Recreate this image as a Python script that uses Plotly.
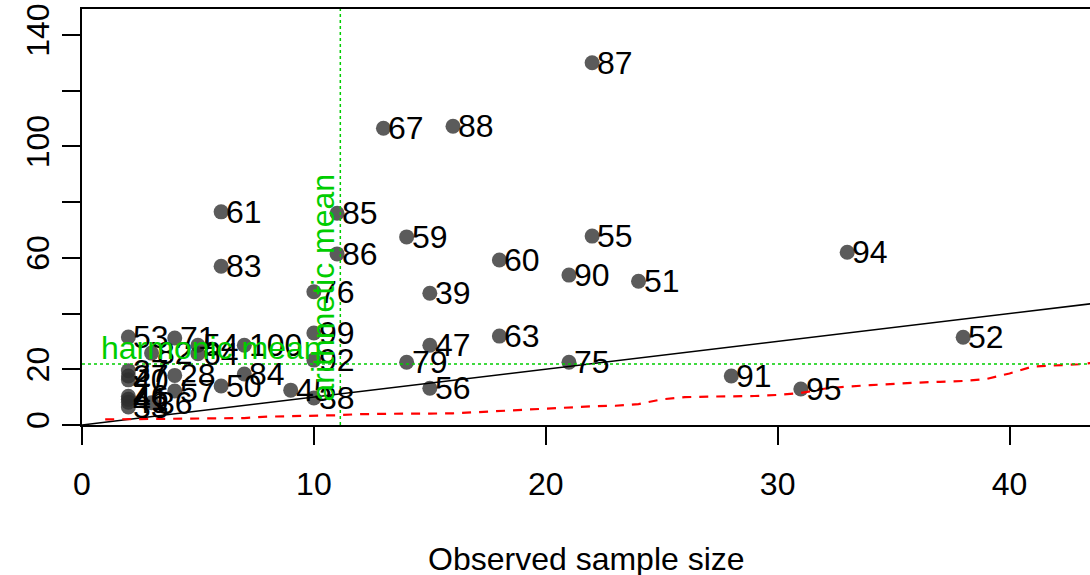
import plotly.graph_objects as go

# Observed samples: x = observed sample size, y = value, lab = sample id
pt_x = [22, 13, 16, 6, 11, 14, 22, 33, 6, 11, 18, 21, 24, 10, 15, 18, 38, 15,
        10, 10, 10, 14, 21, 15, 28, 31, 9, 6, 7,
        2, 4, 5, 7, 3, 5,
        2, 2, 2, 2, 2, 2, 2, 3, 4, 4]
pt_y = [130, 106.5, 107.2, 76.5, 76.0, 67.5, 67.8, 62.0, 57.0, 61.4, 59.2, 53.8, 51.6, 47.8, 47.3, 31.9, 31.5, 28.6,
        33.0, 23.3, 9.7, 22.5, 22.5, 13.2, 17.6, 12.9, 12.5, 14.0, 18.3,
        31.6, 31.2, 28.6, 28.6, 25.8, 25.6,
        19.5, 17.6, 16.2, 10.3, 9.2, 8.2, 6.5, 8.0, 17.8, 12.2]
pt_lab = ["87", "67", "88", "61", "85", "59", "55", "94", "83", "86", "60", "90", "51", "76", "39", "63", "52", "47",
          "99", "92", "38", "79", "75", "56", "91", "95", "45", "50", "84",
          "53", "71", "54", "100", "82", "64",
          "37", "27", "40", "46", "41", "49", "33", "36", "28", "57"]

# Red dashed reference curve
ref_x = list(range(1, 45))
ref_y = [2.0, 2.1, 2.3, 2.3, 2.3, 2.4, 2.5, 3.0, 3.1, 3.2, 3.5, 3.9, 4.1, 4.1, 4.1, 4.2, 4.6, 5.0, 5.4, 5.9,
         6.4, 6.7, 6.9, 7.5, 9.2, 10.0, 10.2, 10.3, 10.4, 10.8, 11.5, 13.0, 13.8, 14.3, 14.8, 15.2, 15.5, 15.8,
         16.5, 18.5, 21.0, 21.4, 21.8, 22.6]

# Identity line
id_x = [0, 45]
id_y = [0, 45]

arith_mean = 11.14
harm_mean = 21.9

x_ticks = [0, 10, 20, 30, 40]
y_ticks = [0, 20, 40, 60, 80, 100, 120, 140]
y_ticktext = ["0", "20", "", "60", "", "100", "", "140"]

FONT = "Liberation Sans, Arial, sans-serif"
GREEN = "#00CD00"
FS = 32

fig = go.Figure()
fig.add_trace(go.Scatter(
    x=pt_x, y=pt_y, mode="markers",
    marker=dict(size=15, color="rgba(45,45,45,0.78)", line=dict(width=0)),
    showlegend=False, hoverinfo="skip"))
fig.add_trace(go.Scatter(x=id_x, y=id_y, mode="lines",
                         line=dict(color="black", width=1.5), showlegend=False, hoverinfo="skip"))
fig.add_trace(go.Scatter(x=ref_x, y=ref_y, mode="lines",
                         line=dict(color="#FF0000", width=2.2, dash="9px,8px"), showlegend=False, hoverinfo="skip"))

# point labels, to the right of each point
for xv, yv, lab in zip(pt_x, pt_y, pt_lab):
    fig.add_annotation(x=xv, y=yv, xref="x", yref="y", text=lab, showarrow=False,
                       xanchor="left", yanchor="middle", xshift=4, borderpad=0,
                       font=dict(family=FONT, size=FS, color="black"))

fig.add_shape(type="line", xref="x", yref="paper", x0=arith_mean, x1=arith_mean, y0=0, y1=1,
              line=dict(color=GREEN, width=1.5, dash="dot"))
fig.add_shape(type="line", xref="paper", yref="y", x0=0, x1=1, y0=harm_mean, y1=harm_mean,
              line=dict(color=GREEN, width=1.5, dash="dot"))

fig.add_annotation(x=5.58, y=27.6, xref="x", yref="y", text="harmonic mean", showarrow=False,
                   font=dict(family=FONT, size=FS, color=GREEN), xanchor="center", yanchor="middle")
fig.add_annotation(x=10.41, y=49.5, xref="x", yref="y", text="arithmetic mean", showarrow=False,
                   textangle=-90, font=dict(family=FONT, size=FS, color=GREEN),
                   xanchor="center", yanchor="middle")
fig.add_annotation(x=0.5, y=0, xref="paper", yref="paper", text="Observed sample size", showarrow=False,
                   font=dict(family=FONT, size=FS, color="black"), xanchor="center", yanchor="middle",
                   yshift=-134)

fig.update_layout(
    width=1090, height=575,
    margin=dict(l=82, r=0, t=9, b=150),
    paper_bgcolor="white", plot_bgcolor="white",
    font=dict(family=FONT, size=FS, color="black"),
    showlegend=False,
)
fig.update_xaxes(range=[0, 43.47], tickvals=x_ticks, ticktext=[str(v) for v in x_ticks],
                 ticks="outside", ticklen=18, tickwidth=1.5, tickcolor="black",
                 showline=True, linecolor="black", linewidth=2, mirror=True,
                 showgrid=False, zeroline=False, ticklabelstandoff=12,
                 tickfont=dict(family=FONT, size=FS, color="black"))
fig.update_yaxes(range=[0, 149.3], tickvals=y_ticks, ticktext=y_ticktext,
                 ticks="outside", ticklen=18, tickwidth=1.5, tickcolor="black",
                 showline=True, linecolor="black", linewidth=2, mirror=False,
                 showgrid=False, zeroline=False, tickangle=-90, ticklabelstandoff=0,
                 tickfont=dict(family=FONT, size=FS, color="black"))

fig.write_html("out.html", config={"displayModeBar": False},
               post_script="document.body.style.margin='0px';document.body.style.padding='0px';")
